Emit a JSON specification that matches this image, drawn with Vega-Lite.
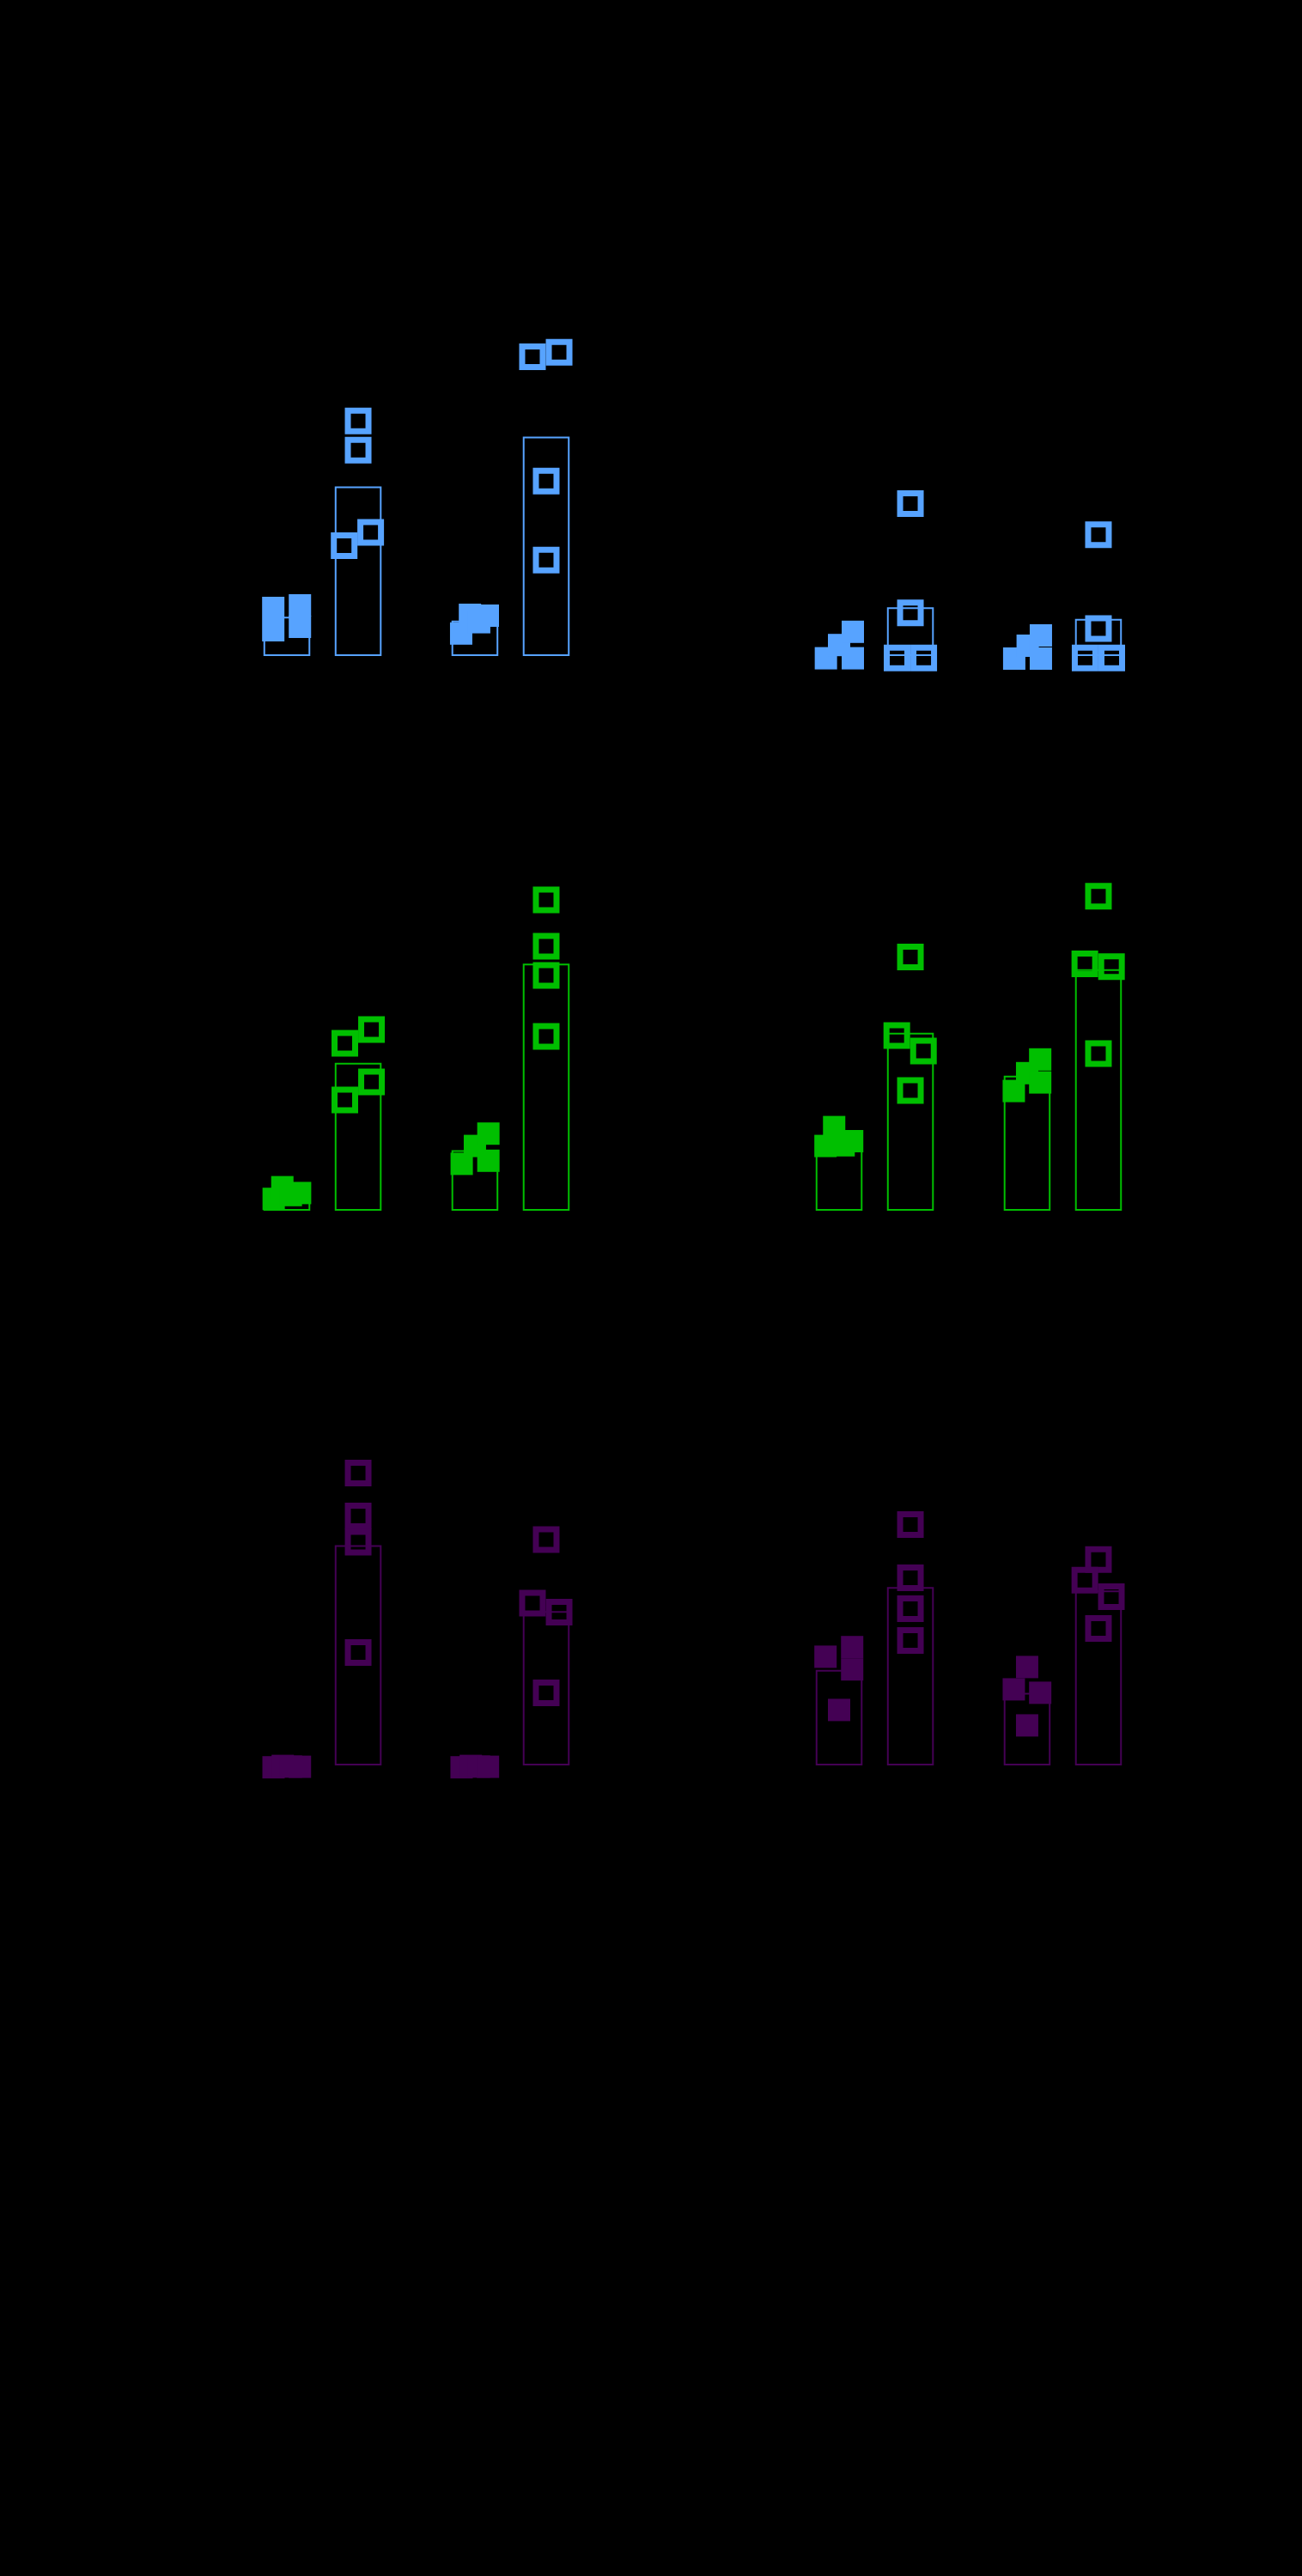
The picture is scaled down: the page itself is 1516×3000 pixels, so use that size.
{
  "$schema": "https://vega.github.io/schema/vega-lite/v6.json",
  "background": "black",
  "autosize": {"type": "pad"},
  "padding": {"left": 255, "top": 363, "right": 158, "bottom": 928},
  "config": {"view": {"stroke": null}},
  "data": {"values": [
    {"measure": "M1", "panel": "P1", "group": "A", "condition": "Control", "jitter": -0.99, "value": 13.75},
    {"measure": "M1", "panel": "P1", "group": "A", "condition": "Control", "jitter": -0.99, "value": 7.25},
    {"measure": "M1", "panel": "P1", "group": "A", "condition": "Control", "jitter": 0.95, "value": 14.5},
    {"measure": "M1", "panel": "P1", "group": "A", "condition": "Control", "jitter": 0.95, "value": 8.25},
    {"measure": "M1", "panel": "P1", "group": "A", "condition": "Treated", "jitter": 0, "value": 68.2},
    {"measure": "M1", "panel": "P1", "group": "A", "condition": "Treated", "jitter": 0, "value": 59.7},
    {"measure": "M1", "panel": "P1", "group": "A", "condition": "Treated", "jitter": -1.02, "value": 31.9},
    {"measure": "M1", "panel": "P1", "group": "A", "condition": "Treated", "jitter": 0.91, "value": 35.75},
    {"measure": "M1", "panel": "P1", "group": "B", "condition": "Control", "jitter": -1.0, "value": 6.3},
    {"measure": "M1", "panel": "P1", "group": "B", "condition": "Control", "jitter": -0.36, "value": 11.75},
    {"measure": "M1", "panel": "P1", "group": "B", "condition": "Control", "jitter": 0.94, "value": 11.5},
    {"measure": "M1", "panel": "P1", "group": "B", "condition": "Control", "jitter": 0.31, "value": 9.6},
    {"measure": "M1", "panel": "P1", "group": "B", "condition": "Treated", "jitter": -1.0, "value": 86.9},
    {"measure": "M1", "panel": "P1", "group": "B", "condition": "Treated", "jitter": 0.94, "value": 88.2},
    {"measure": "M1", "panel": "P1", "group": "B", "condition": "Treated", "jitter": 0, "value": 50.7},
    {"measure": "M1", "panel": "P1", "group": "B", "condition": "Treated", "jitter": 0, "value": 27.7},
    {"measure": "M1", "panel": "P2", "group": "A", "condition": "Control", "jitter": -0.96, "value": -0.9},
    {"measure": "M1", "panel": "P2", "group": "A", "condition": "Control", "jitter": 0, "value": 2.95},
    {"measure": "M1", "panel": "P2", "group": "A", "condition": "Control", "jitter": 1.0, "value": 6.8},
    {"measure": "M1", "panel": "P2", "group": "A", "condition": "Control", "jitter": 1.0, "value": -0.9},
    {"measure": "M1", "panel": "P2", "group": "A", "condition": "Treated", "jitter": 0, "value": 44.1},
    {"measure": "M1", "panel": "P2", "group": "A", "condition": "Treated", "jitter": 0, "value": 12.3},
    {"measure": "M1", "panel": "P2", "group": "A", "condition": "Treated", "jitter": -0.97, "value": -0.8},
    {"measure": "M1", "panel": "P2", "group": "A", "condition": "Treated", "jitter": 0.97, "value": -0.8},
    {"measure": "M1", "panel": "P2", "group": "B", "condition": "Control", "jitter": -0.94, "value": -1.0},
    {"measure": "M1", "panel": "P2", "group": "B", "condition": "Control", "jitter": 0.04, "value": 2.75},
    {"measure": "M1", "panel": "P2", "group": "B", "condition": "Control", "jitter": 1.0, "value": 5.75},
    {"measure": "M1", "panel": "P2", "group": "B", "condition": "Control", "jitter": 1.0, "value": -1.0},
    {"measure": "M1", "panel": "P2", "group": "B", "condition": "Treated", "jitter": 0, "value": 35.05},
    {"measure": "M1", "panel": "P2", "group": "B", "condition": "Treated", "jitter": 0, "value": 7.75},
    {"measure": "M1", "panel": "P2", "group": "B", "condition": "Treated", "jitter": -0.97, "value": -0.8},
    {"measure": "M1", "panel": "P2", "group": "B", "condition": "Treated", "jitter": 0.97, "value": -0.8},
    {"measure": "M2", "panel": "P1", "group": "A", "condition": "Control", "jitter": -0.96, "value": 3.2},
    {"measure": "M2", "panel": "P1", "group": "A", "condition": "Control", "jitter": -0.33, "value": 6.6},
    {"measure": "M2", "panel": "P1", "group": "A", "condition": "Control", "jitter": 0.29, "value": 4.3},
    {"measure": "M2", "panel": "P1", "group": "A", "condition": "Control", "jitter": 0.96, "value": 4.9},
    {"measure": "M2", "panel": "P1", "group": "A", "condition": "Treated", "jitter": -0.97, "value": 48.5},
    {"measure": "M2", "panel": "P1", "group": "A", "condition": "Treated", "jitter": 0.97, "value": 52.5},
    {"measure": "M2", "panel": "P1", "group": "A", "condition": "Treated", "jitter": -0.97, "value": 32},
    {"measure": "M2", "panel": "P1", "group": "A", "condition": "Treated", "jitter": 0.97, "value": 37.25},
    {"measure": "M2", "panel": "P1", "group": "B", "condition": "Control", "jitter": -0.96, "value": 13.4},
    {"measure": "M2", "panel": "P1", "group": "B", "condition": "Control", "jitter": 0, "value": 18.6},
    {"measure": "M2", "panel": "P1", "group": "B", "condition": "Control", "jitter": 0.98, "value": 22.2},
    {"measure": "M2", "panel": "P1", "group": "B", "condition": "Control", "jitter": 0.98, "value": 14.3},
    {"measure": "M2", "panel": "P1", "group": "B", "condition": "Treated", "jitter": 0, "value": 90.25},
    {"measure": "M2", "panel": "P1", "group": "B", "condition": "Treated", "jitter": 0, "value": 76.75},
    {"measure": "M2", "panel": "P1", "group": "B", "condition": "Treated", "jitter": 0, "value": 68.25},
    {"measure": "M2", "panel": "P1", "group": "B", "condition": "Treated", "jitter": 0, "value": 50.5},
    {"measure": "M2", "panel": "P2", "group": "A", "condition": "Control", "jitter": -0.99, "value": 18.6},
    {"measure": "M2", "panel": "P2", "group": "A", "condition": "Control", "jitter": -0.36, "value": 24.1},
    {"measure": "M2", "panel": "P2", "group": "A", "condition": "Control", "jitter": 0.33, "value": 18.8},
    {"measure": "M2", "panel": "P2", "group": "A", "condition": "Control", "jitter": 0.95, "value": 20},
    {"measure": "M2", "panel": "P2", "group": "A", "condition": "Treated", "jitter": 0, "value": 73.6},
    {"measure": "M2", "panel": "P2", "group": "A", "condition": "Treated", "jitter": -0.99, "value": 50.75},
    {"measure": "M2", "panel": "P2", "group": "A", "condition": "Treated", "jitter": 0.95, "value": 46.25},
    {"measure": "M2", "panel": "P2", "group": "A", "condition": "Treated", "jitter": 0, "value": 34.75},
    {"measure": "M2", "panel": "P2", "group": "B", "condition": "Control", "jitter": -0.97, "value": 34.6},
    {"measure": "M2", "panel": "P2", "group": "B", "condition": "Control", "jitter": 0, "value": 39.8},
    {"measure": "M2", "panel": "P2", "group": "B", "condition": "Control", "jitter": 0.95, "value": 43.8},
    {"measure": "M2", "panel": "P2", "group": "B", "condition": "Control", "jitter": 0.95, "value": 37.1},
    {"measure": "M2", "panel": "P2", "group": "B", "condition": "Treated", "jitter": 0, "value": 91.3},
    {"measure": "M2", "panel": "P2", "group": "B", "condition": "Treated", "jitter": -0.99, "value": 71.6},
    {"measure": "M2", "panel": "P2", "group": "B", "condition": "Treated", "jitter": 0.95, "value": 70.8},
    {"measure": "M2", "panel": "P2", "group": "B", "condition": "Treated", "jitter": 0, "value": 45.5},
    {"measure": "M3", "panel": "P1", "group": "A", "condition": "Control", "jitter": -0.97, "value": -0.8},
    {"measure": "M3", "panel": "P1", "group": "A", "condition": "Control", "jitter": -0.3, "value": -0.4},
    {"measure": "M3", "panel": "P1", "group": "A", "condition": "Control", "jitter": 0.3, "value": -0.6},
    {"measure": "M3", "panel": "P1", "group": "A", "condition": "Control", "jitter": 0.95, "value": -0.65},
    {"measure": "M3", "panel": "P1", "group": "A", "condition": "Treated", "jitter": 0, "value": 84.85},
    {"measure": "M3", "panel": "P1", "group": "A", "condition": "Treated", "jitter": 0, "value": 72.35},
    {"measure": "M3", "panel": "P1", "group": "A", "condition": "Treated", "jitter": 0, "value": 64.75},
    {"measure": "M3", "panel": "P1", "group": "A", "condition": "Treated", "jitter": 0, "value": 32.6},
    {"measure": "M3", "panel": "P1", "group": "B", "condition": "Control", "jitter": -0.97, "value": -0.8},
    {"measure": "M3", "panel": "P1", "group": "B", "condition": "Control", "jitter": -0.3, "value": -0.4},
    {"measure": "M3", "panel": "P1", "group": "B", "condition": "Control", "jitter": 0.3, "value": -0.6},
    {"measure": "M3", "panel": "P1", "group": "B", "condition": "Control", "jitter": 0.95, "value": -0.65},
    {"measure": "M3", "panel": "P1", "group": "B", "condition": "Treated", "jitter": 0, "value": 65.5},
    {"measure": "M3", "panel": "P1", "group": "B", "condition": "Treated", "jitter": -1.0, "value": 47},
    {"measure": "M3", "panel": "P1", "group": "B", "condition": "Treated", "jitter": 0.94, "value": 44.4},
    {"measure": "M3", "panel": "P1", "group": "B", "condition": "Treated", "jitter": 0, "value": 20.85},
    {"measure": "M3", "panel": "P2", "group": "A", "condition": "Control", "jitter": -0.99, "value": 31.4},
    {"measure": "M3", "panel": "P2", "group": "A", "condition": "Control", "jitter": 0.95, "value": 34.2},
    {"measure": "M3", "panel": "P2", "group": "A", "condition": "Control", "jitter": 0.95, "value": 27.7},
    {"measure": "M3", "panel": "P2", "group": "A", "condition": "Control", "jitter": 0, "value": 15.9},
    {"measure": "M3", "panel": "P2", "group": "A", "condition": "Treated", "jitter": 0, "value": 69.85},
    {"measure": "M3", "panel": "P2", "group": "A", "condition": "Treated", "jitter": 0, "value": 54.35},
    {"measure": "M3", "panel": "P2", "group": "A", "condition": "Treated", "jitter": 0, "value": 45.35},
    {"measure": "M3", "panel": "P2", "group": "A", "condition": "Treated", "jitter": 0, "value": 36.1},
    {"measure": "M3", "panel": "P2", "group": "B", "condition": "Control", "jitter": 0, "value": 28.4},
    {"measure": "M3", "panel": "P2", "group": "B", "condition": "Control", "jitter": -0.97, "value": 21.9},
    {"measure": "M3", "panel": "P2", "group": "B", "condition": "Control", "jitter": 0.95, "value": 20.9},
    {"measure": "M3", "panel": "P2", "group": "B", "condition": "Control", "jitter": 0, "value": 11.4},
    {"measure": "M3", "panel": "P2", "group": "B", "condition": "Treated", "jitter": 0, "value": 59.7},
    {"measure": "M3", "panel": "P2", "group": "B", "condition": "Treated", "jitter": -0.99, "value": 53.7},
    {"measure": "M3", "panel": "P2", "group": "B", "condition": "Treated", "jitter": 0.94, "value": 48.85},
    {"measure": "M3", "panel": "P2", "group": "B", "condition": "Treated", "jitter": 0, "value": 39.6}
  ]},
  "facet": {
    "row": {"field": "measure", "type": "nominal", "header": null, "sort": ["M1", "M2", "M3"]},
    "column": {"field": "panel", "type": "nominal", "header": null, "sort": ["P1", "P2"]}
  },
  "spacing": {"row": 246, "column": 183},
  "bounds": "flush",
  "spec": {
    "width": 460,
    "height": 400,
    "layer": [
      {
        "mark": {"type": "bar", "filled": false, "fill": "transparent", "strokeWidth": 2, "opacity": 1},
        "encoding": {
          "x": {"field": "group", "type": "nominal", "axis": null, "scale": {"domain": ["A", "B"], "paddingInner": 0.381, "paddingOuter": 0.241}},
          "xOffset": {"field": "condition", "type": "nominal", "scale": {"domain": ["Control", "Treated"], "paddingInner": 0.3675, "paddingOuter": 0}},
          "y": {"aggregate": "mean", "field": "value", "type": "quantitative", "axis": null, "scale": {"domain": [0, 100], "nice": false, "zero": false}},
          "color": {"field": "measure", "type": "nominal", "legend": null, "scale": {"domain": ["M1", "M2", "M3"], "range": ["#57a3ff", "#00bf00", "#440154"]}}
        }
      },
      {
        "transform": [{"filter": "datum.condition === 'Control'"}],
        "mark": {"type": "point", "shape": "square", "filled": true, "size": 676, "strokeWidth": 0, "opacity": 1},
        "encoding": {
          "x": {"field": "group", "type": "nominal", "axis": null},
          "xOffset": {"field": "jitter", "type": "quantitative", "scale": {"domain": [-1.640625, 6.828125], "nice": false, "zero": false}},
          "y": {"field": "value", "type": "quantitative", "axis": null},
          "color": {"field": "measure", "type": "nominal", "legend": null}
        }
      },
      {
        "transform": [{"filter": "datum.condition === 'Treated'"}],
        "mark": {"type": "point", "shape": "square", "filled": false, "size": 576, "strokeWidth": 7, "opacity": 1},
        "encoding": {
          "x": {"field": "group", "type": "nominal", "axis": null},
          "xOffset": {"field": "jitter", "type": "quantitative", "scale": {"domain": [-6.828125, 1.640625], "nice": false, "zero": false}},
          "y": {"field": "value", "type": "quantitative", "axis": null},
          "color": {"field": "measure", "type": "nominal", "legend": null}
        }
      }
    ],
    "resolve": {"scale": {"xOffset": "independent"}}
  }
}
